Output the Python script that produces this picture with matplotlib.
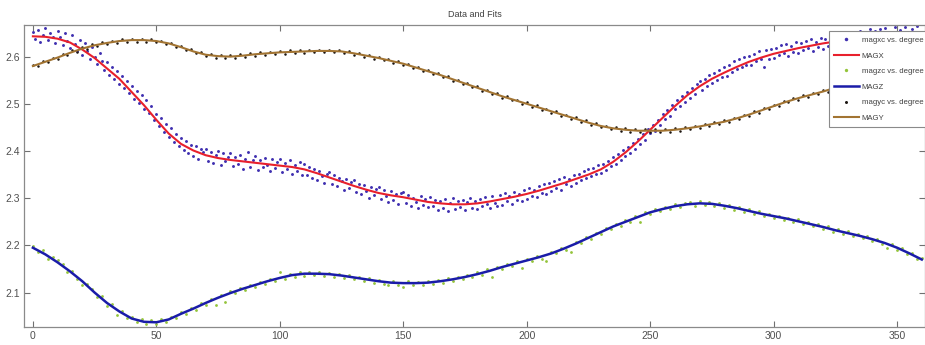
import numpy as np
import matplotlib
matplotlib.use('Agg')
import matplotlib.pyplot as plt

plt.rcParams['font.family'] = ['Liberation Sans Narrow', 'Liberation Sans', 'DejaVu Sans']

#%% data
# fitted curves, every 5 degrees
fit_deg = np.arange(0, 361, 5)
magx_fit = [2.643, 2.642, 2.638, 2.630, 2.615, 2.597, 2.575, 2.553, 2.525, 2.497,
            2.466, 2.437, 2.415, 2.401, 2.391, 2.385, 2.381, 2.378, 2.375, 2.372,
            2.369, 2.366, 2.361, 2.353, 2.344, 2.335, 2.326, 2.318, 2.311, 2.306,
            2.302, 2.297, 2.292, 2.289, 2.287, 2.287, 2.289, 2.293, 2.298, 2.303,
            2.309, 2.316, 2.324, 2.332, 2.341, 2.350, 2.361, 2.377, 2.397, 2.420,
            2.445, 2.470, 2.495, 2.518, 2.537, 2.553, 2.566, 2.578, 2.589, 2.598,
            2.606, 2.612, 2.618, 2.623, 2.628, 2.632, 2.636, 2.639, 2.641, 2.643,
            2.644, 2.645, 2.645]
magz_fit = [2.195, 2.181, 2.164, 2.145, 2.124, 2.100, 2.078, 2.060, 2.045, 2.038,
            2.037, 2.043, 2.055, 2.066, 2.078, 2.089, 2.099, 2.108, 2.116, 2.124,
            2.131, 2.137, 2.140, 2.140, 2.139, 2.136, 2.132, 2.128, 2.124, 2.121,
            2.120, 2.120, 2.121, 2.124, 2.128, 2.133, 2.139, 2.146, 2.154, 2.161,
            2.168, 2.175, 2.183, 2.193, 2.204, 2.216, 2.228, 2.240, 2.250, 2.260,
            2.270, 2.277, 2.283, 2.287, 2.289, 2.288, 2.284, 2.279, 2.273, 2.267,
            2.262, 2.257, 2.251, 2.245, 2.239, 2.232, 2.226, 2.220, 2.213, 2.205,
            2.195, 2.183, 2.170]
magy_fit = [2.580, 2.589, 2.598, 2.608, 2.617, 2.624, 2.629, 2.633, 2.635, 2.635,
            2.633, 2.628, 2.620, 2.611, 2.604, 2.601, 2.600, 2.602, 2.605, 2.607,
            2.609, 2.610, 2.611, 2.612, 2.612, 2.611, 2.607, 2.602, 2.597, 2.591,
            2.585, 2.577, 2.569, 2.561, 2.552, 2.543, 2.534, 2.525, 2.516, 2.508,
            2.500, 2.492, 2.484, 2.476, 2.468, 2.460, 2.453, 2.448, 2.445, 2.443,
            2.443, 2.443, 2.445, 2.448, 2.452, 2.457, 2.462, 2.469, 2.477, 2.486,
            2.495, 2.504, 2.512, 2.519, 2.526, 2.534, 2.540, 2.545, 2.550, 2.555,
            2.559, 2.563, 2.567]

# measured points
magxc_deg = np.arange(0, 361, 1)
magxc = [2.652, 2.638, 2.657, 2.631, 2.646, 2.660, 2.635, 2.649, 2.641, 2.628,
         2.655, 2.641, 2.624, 2.650, 2.633, 2.619, 2.645, 2.627, 2.612, 2.636,
         2.604, 2.628, 2.611, 2.595, 2.620, 2.599, 2.584, 2.607, 2.590, 2.571,
         2.588, 2.562, 2.579, 2.553, 2.570, 2.541, 2.559, 2.533, 2.549, 2.522,
         2.538, 2.511, 2.527, 2.502, 2.519, 2.490, 2.507, 2.481, 2.495, 2.465,
         2.478, 2.452, 2.470, 2.441, 2.457, 2.429, 2.448, 2.420, 2.437, 2.411,
         2.428, 2.402, 2.421, 2.396, 2.413, 2.389, 2.410, 2.383, 2.405, 2.398,
         2.404, 2.379, 2.398, 2.375, 2.392, 2.401, 2.371, 2.395, 2.378, 2.388,
         2.395, 2.368, 2.387, 2.373, 2.392, 2.362, 2.384, 2.397, 2.366, 2.381,
         2.389, 2.360, 2.381, 2.367, 2.386, 2.371, 2.357, 2.383, 2.364, 2.377,
         2.382, 2.355, 2.375, 2.361, 2.380, 2.352, 2.370, 2.358, 2.376, 2.349,
         2.372, 2.350, 2.366, 2.343, 2.361, 2.338, 2.357, 2.346, 2.333, 2.352,
         2.356, 2.331, 2.349, 2.325, 2.343, 2.336, 2.318, 2.340, 2.322, 2.334,
         2.338, 2.314, 2.331, 2.309, 2.327, 2.315, 2.301, 2.324, 2.306, 2.319,
         2.323, 2.298, 2.317, 2.304, 2.291, 2.315, 2.296, 2.309, 2.288, 2.312,
         2.314, 2.289, 2.307, 2.283, 2.301, 2.292, 2.279, 2.305, 2.286, 2.298,
         2.281, 2.303, 2.284, 2.297, 2.276, 2.293, 2.280, 2.299, 2.272, 2.290,
         2.301, 2.277, 2.294, 2.281, 2.297, 2.274, 2.291, 2.300, 2.279, 2.295,
         2.278, 2.298, 2.283, 2.302, 2.287, 2.279, 2.305, 2.290, 2.284, 2.307,
         2.286, 2.310, 2.293, 2.305, 2.288, 2.314, 2.297, 2.309, 2.294, 2.318,
         2.298, 2.321, 2.305, 2.317, 2.302, 2.326, 2.311, 2.329, 2.309, 2.333,
         2.315, 2.336, 2.322, 2.340, 2.318, 2.345, 2.329, 2.341, 2.325, 2.350,
         2.332, 2.352, 2.338, 2.357, 2.343, 2.362, 2.348, 2.365, 2.351, 2.370,
         2.354, 2.372, 2.360, 2.379, 2.368, 2.388, 2.372, 2.394, 2.381, 2.403,
         2.390, 2.409, 2.396, 2.417, 2.405, 2.426, 2.414, 2.436, 2.423, 2.447,
         2.438, 2.456, 2.443, 2.466, 2.455, 2.478, 2.468, 2.487, 2.474, 2.497,
         2.488, 2.507, 2.495, 2.516, 2.503, 2.525, 2.512, 2.533, 2.520, 2.541,
         2.548, 2.530, 2.553, 2.538, 2.560, 2.545, 2.566, 2.551, 2.572, 2.557,
         2.578, 2.559, 2.583, 2.567, 2.591, 2.574, 2.594, 2.579, 2.600, 2.583,
         2.601, 2.582, 2.606, 2.590, 2.611, 2.594, 2.579, 2.613, 2.596, 2.617,
         2.597, 2.619, 2.603, 2.624, 2.608, 2.627, 2.601, 2.622, 2.610, 2.631,
         2.607, 2.629, 2.613, 2.634, 2.618, 2.637, 2.611, 2.632, 2.620, 2.640,
         2.617, 2.638, 2.622, 2.643, 2.627, 2.646, 2.621, 2.640, 2.629, 2.649,
         2.625, 2.647, 2.631, 2.652, 2.636, 2.655, 2.628, 2.649, 2.637, 2.658,
         2.632, 2.654, 2.638, 2.659, 2.642, 2.661, 2.635, 2.652, 2.644, 2.662,
         2.637, 2.656, 2.641, 2.663, 2.648, 2.636, 2.659, 2.644, 2.665, 2.639,
         2.651]

magzc_deg = np.arange(0, 361, 2)
magzc = [2.199, 2.185, 2.190, 2.171, 2.176, 2.168, 2.161, 2.143, 2.146, 2.129,
         2.117, 2.119, 2.108, 2.091, 2.093, 2.071, 2.075, 2.052, 2.060, 2.046,
         2.049, 2.038, 2.043, 2.034, 2.041, 2.033, 2.044, 2.038, 2.049, 2.046,
         2.059, 2.055, 2.068, 2.063, 2.077, 2.074, 2.086, 2.073, 2.095, 2.081,
         2.103, 2.099, 2.110, 2.106, 2.117, 2.112, 2.123, 2.118, 2.129, 2.124,
         2.143, 2.129, 2.140, 2.134, 2.143, 2.136, 2.144, 2.137, 2.143, 2.136,
         2.142, 2.134, 2.140, 2.131, 2.137, 2.128, 2.134, 2.125, 2.131, 2.121,
         2.127, 2.119, 2.115, 2.124, 2.117, 2.112, 2.124, 2.116, 2.123, 2.117,
         2.125, 2.119, 2.127, 2.121, 2.130, 2.124, 2.134, 2.129, 2.138, 2.133,
         2.143, 2.138, 2.149, 2.133, 2.155, 2.150, 2.161, 2.156, 2.166, 2.152,
         2.172, 2.167, 2.178, 2.172, 2.166, 2.187, 2.183, 2.195, 2.191, 2.186,
         2.208, 2.205, 2.218, 2.214, 2.227, 2.224, 2.237, 2.234, 2.246, 2.242,
         2.254, 2.250, 2.262, 2.250, 2.270, 2.266, 2.277, 2.272, 2.282, 2.277,
         2.287, 2.281, 2.290, 2.292, 2.284, 2.293, 2.285, 2.292, 2.283, 2.290,
         2.280, 2.286, 2.276, 2.282, 2.271, 2.277, 2.267, 2.272, 2.262, 2.267,
         2.258, 2.263, 2.254, 2.259, 2.249, 2.255, 2.245, 2.250, 2.240, 2.245,
         2.235, 2.240, 2.229, 2.235, 2.224, 2.230, 2.220, 2.225, 2.215, 2.220,
         2.209, 2.214, 2.203, 2.195, 2.203, 2.191, 2.194, 2.181, 2.184, 2.171,
         2.174]

magyc_deg = np.arange(0, 361, 2)
magyc = [2.583, 2.580, 2.590, 2.588, 2.597, 2.595, 2.605, 2.603, 2.613, 2.610,
         2.620, 2.617, 2.626, 2.622, 2.630, 2.626, 2.634, 2.629, 2.637, 2.631,
         2.638, 2.632, 2.638, 2.631, 2.637, 2.630, 2.634, 2.626, 2.629, 2.620,
         2.623, 2.613, 2.616, 2.607, 2.610, 2.601, 2.606, 2.598, 2.604, 2.597,
         2.603, 2.598, 2.605, 2.600, 2.607, 2.602, 2.609, 2.604, 2.610, 2.605,
         2.612, 2.606, 2.613, 2.607, 2.614, 2.608, 2.614, 2.609, 2.615, 2.609,
         2.615, 2.609, 2.614, 2.607, 2.612, 2.604, 2.608, 2.600, 2.604, 2.596,
         2.600, 2.592, 2.595, 2.587, 2.591, 2.582, 2.585, 2.576, 2.578, 2.569,
         2.572, 2.563, 2.566, 2.556, 2.559, 2.549, 2.551, 2.542, 2.544, 2.535,
         2.537, 2.527, 2.530, 2.520, 2.523, 2.513, 2.516, 2.507, 2.509, 2.500,
         2.503, 2.494, 2.497, 2.487, 2.490, 2.481, 2.484, 2.475, 2.477, 2.468,
         2.471, 2.462, 2.465, 2.456, 2.459, 2.450, 2.454, 2.446, 2.450, 2.443,
         2.448, 2.441, 2.446, 2.440, 2.446, 2.440, 2.446, 2.440, 2.446, 2.441,
         2.448, 2.443, 2.450, 2.446, 2.453, 2.449, 2.457, 2.453, 2.461, 2.457,
         2.465, 2.461, 2.470, 2.467, 2.477, 2.474, 2.484, 2.481, 2.491, 2.488,
         2.498, 2.496, 2.505, 2.503, 2.512, 2.509, 2.518, 2.515, 2.523, 2.520,
         2.529, 2.526, 2.535, 2.532, 2.541, 2.537, 2.545, 2.541, 2.549, 2.545,
         2.553, 2.549, 2.557, 2.553, 2.561, 2.556, 2.564, 2.559, 2.567, 2.563,
         2.570]

x_ticks = [0, 50, 100, 150, 200, 250, 300, 350]
y_ticks = [2.1, 2.2, 2.3, 2.4, 2.5, 2.6]

#%% plot
fig = plt.figure(figsize=(9.25, 3.45), dpi=100)
ax = fig.add_axes([24/925, 18/345, 901/925, 302/345])

ax.plot(magxc_deg, magxc, 'o', color='#3f2fb0', markersize=2.1, markeredgewidth=0,
        label='magxc vs. degree')
ax.plot(fit_deg, magx_fit, '-', color='#e8202c', linewidth=1.5, label='MAGX')
ax.plot(magzc_deg, magzc, 'o', color='#93c43a', markersize=2.0, markeredgewidth=0,
        label='magzc vs. degree')
ax.plot(fit_deg, magz_fit, '-', color='#1a1ca8', linewidth=1.8, label='MAGZ')
ax.plot(magyc_deg, magyc, 'o', color='#1a1410', markersize=1.8, markeredgewidth=0,
        label='magyc vs. degree')
ax.plot(fit_deg, magy_fit, '-', color='#a27432', linewidth=1.5, label='MAGY')

ax.set_xlim(-3.6, 361.3)
ax.set_ylim(2.027, 2.667)
ax.set_xticks(x_ticks)
ax.set_yticks(y_ticks)
ax.set_yticklabels([str(v) for v in y_ticks])
ax.tick_params(direction='in', top=True, right=True, length=4, width=0.8,
               color='#707070', labelcolor='#505050', labelsize=7.5, pad=3)
for s in ax.spines.values():
    s.set_color('#8a8a8a')
    s.set_linewidth(0.9)

ax.set_title('Data and Fits', fontsize=6.5, color='#404040', pad=6)

leg = ax.legend(loc='upper left', bbox_to_anchor=(0.893, 0.98), borderaxespad=0,
                fontsize=5.6, numpoints=1, markerscale=1.2, handlelength=3.2,
                handletextpad=0.35, labelspacing=1.05, borderpad=0.7,
                fancybox=False, framealpha=1, edgecolor='#8a8a8a')
leg.get_frame().set_linewidth(0.8)
for t in leg.get_texts():
    t.set_color('#404040')

fig.savefig('out.png', dpi=100)
